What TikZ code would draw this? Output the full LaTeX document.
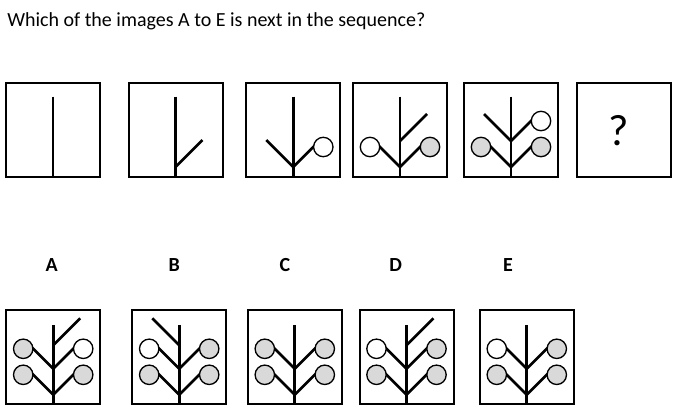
\documentclass[tikz,border=0pt]{standalone}
\usepackage{fontspec}
\setmainfont{Carlito}
\definecolor{budgrey}{HTML}{D9D9D9}
% Zweig mit Kreis: Seite (-1/1), Hoehe der Gabel, Fuellung
\newcommand{\berry}[3]{%
	\draw[stem] (0,#2) -- ++(#1*22,-22);
	\draw[bud, fill=#3] (#1*30,#2-20) circle (9.7);
}
% Zweig ohne Kreis
\newcommand{\sprig}[2]{\draw[stem] (0,#2) -- ++(#1*27,-27);}
\begin{document}
\begin{tikzpicture}[x=0.75pt, y=-0.75pt,
	panel/.style={draw, line width=1.5pt, minimum size=70.5pt, inner sep=0pt},
	stem/.style={line width=2pt},
	bud/.style={draw, line width=1pt},
	tag/.style={font=\fontsize{15}{18}\selectfont\bfseries, inner sep=0pt}]
	\useasboundingbox (0,0) rectangle (693,418);
	\node[anchor=base west, inner sep=0pt, font=\fontsize{15}{18}\selectfont] (title) at (7,26)
		{Which of the images A to E is next in the sequence?};

	% Folge
	\foreach \n/\x in {1/53, 2/175.5, 3/293.3, 4/400, 5/511, 6/623.5} {
		\node[panel] (s\n) at (\x,129.5) {};
	}
	\foreach \n in {1,...,5} {
		\begin{scope}[shift={(s\n)}]
			\draw[stem] (0,-33) -- (0,47.5);
		\end{scope}
	}
	\begin{scope}[shift={(s2)}]
		\sprig{1}{37.5}
	\end{scope}
	\begin{scope}[shift={(s3)}]
		\sprig{-1}{37.5}
		\berry{1}{37.5}{white}
	\end{scope}
	\begin{scope}[shift={(s4)}]
		\sprig{1}{11.5}
		\berry{-1}{37.5}{white}
		\berry{1}{37.5}{budgrey}
	\end{scope}
	\begin{scope}[shift={(s5)}]
		\sprig{-1}{11.5}
		\berry{1}{11.5}{white}
		\berry{-1}{37.5}{budgrey}
		\berry{1}{37.5}{budgrey}
	\end{scope}
	\node[anchor=base, inner sep=0pt, font=\fontsize{33}{40}\selectfont] (qm) at (618.3,145) {?};

	% Antworten
	\foreach \n/\x/\lx in {A/53.2/51.7, B/179.2/174.3, C/294.8/285, D/406.5/395.7, E/526.8/508} {
		\node[panel] (o\n) at (\x,357.3) {};
		\node[tag] (l\n) at (\lx,265) {\n};
		\begin{scope}[shift={(o\n)}]
			\draw[stem] (0,-32.5) -- (0,47.5);
			\berry{-1}{37.5}{budgrey}
			\berry{1}{37.5}{budgrey}
		\end{scope}
	}
	\begin{scope}[shift={(oA)}]
		\sprig{1}{-12}
		\berry{-1}{11.5}{budgrey}
		\berry{1}{11.5}{white}
	\end{scope}
	\begin{scope}[shift={(oB)}]
		\sprig{-1}{-12}
		\berry{-1}{11.5}{white}
		\berry{1}{11.5}{budgrey}
	\end{scope}
	\begin{scope}[shift={(oC)}]
		\berry{-1}{11.5}{budgrey}
		\berry{1}{11.5}{budgrey}
	\end{scope}
	\begin{scope}[shift={(oD)}]
		\sprig{1}{-12}
		\berry{-1}{11.5}{white}
		\berry{1}{11.5}{budgrey}
	\end{scope}
	\begin{scope}[shift={(oE)}]
		\berry{-1}{11.5}{white}
		\berry{1}{11.5}{budgrey}
	\end{scope}
\end{tikzpicture}
\end{document}
